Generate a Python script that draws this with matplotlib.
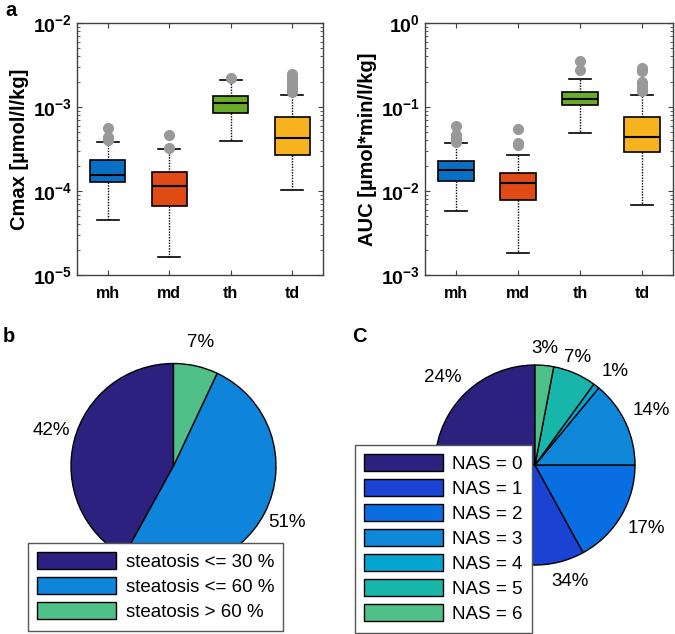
import math
import matplotlib.pyplot as plt

plt.rcParams['font.family'] = ['Liberation Sans', 'DejaVu Sans']
plt.rcParams['mathtext.fontset'] = 'custom'
plt.rcParams['mathtext.rm'] = 'Liberation Sans'
plt.rcParams['mathtext.bf'] = 'Liberation Sans:bold'

# --- data ---
groups = ["mh", "md", "th", "td"]
box_colors = ["#0a6fc4", "#e04a15", "#6aab2b", "#f6b31e"]

# Cmax [umol/l/kg]: whisker low, q1, median, q3, whisker high
cmax_whislo = [4.5e-5, 1.64e-5, 3.9e-4, 1.03e-4]
cmax_q1 = [1.28e-4, 6.6e-5, 8.5e-4, 2.7e-4]
cmax_med = [1.57e-4, 1.16e-4, 1.11e-3, 4.26e-4]
cmax_q3 = [2.33e-4, 1.67e-4, 1.36e-3, 7.5e-4]
cmax_whishi = [3.8e-4, 3.2e-4, 2.1e-3, 1.4e-3]
cmax_fliers = [
    [4.1e-4, 4.4e-4, 5.7e-4],
    [3.25e-4, 4.7e-4],
    [2.2e-3],
    [1.5e-3, 1.6e-3, 1.7e-3, 1.8e-3, 1.9e-3, 2.0e-3, 2.1e-3, 2.2e-3, 2.35e-3, 2.45e-3],
]

# AUC [umol*min/l/kg]
auc_whislo = [5.8e-3, 1.85e-3, 0.0496, 6.9e-3]
auc_q1 = [0.013, 7.8e-3, 0.105, 0.029]
auc_med = [0.0176, 0.0125, 0.124, 0.044]
auc_q3 = [0.0225, 0.0165, 0.149, 0.076]
auc_whishi = [0.037, 0.0268, 0.213, 0.14]
auc_fliers = [
    [0.038, 0.041, 0.044, 0.047, 0.0596],
    [0.035, 0.0375, 0.0553],
    [0.276, 0.357],
    [0.157, 0.165, 0.175, 0.185, 0.2, 0.27, 0.289],
]

# pie b: steatosis
steatosis_labels = ["steatosis <= 30 %", "steatosis <= 60 %", "steatosis > 60 %"]
steatosis_pct = [42, 51, 7]
steatosis_colors = ["#2c217f", "#0e85db", "#4fc087"]

# pie c: NAS score
nas_labels = ["NAS = 0", "NAS = 1", "NAS = 2", "NAS = 3", "NAS = 4", "NAS = 5", "NAS = 6"]
nas_pct = [24, 34, 17, 14, 1, 7, 3]
nas_colors = ["#2c217f", "#1a43d4", "#0a6ee3", "#0f87d8", "#05a5d0", "#17b5aa", "#4fc087"]

W, H = 675, 634
fig = plt.figure(figsize=(W / 100, H / 100), dpi=100)


def px_axes(x0, y0, x1, y1):
    return fig.add_axes([x0 / W, 1 - y1 / H, (x1 - x0) / W, (y1 - y0) / H])


def box_panel(ax, lo, q1, med, q3, hi, fliers, ylim, ylabel, ticks):
    stats = []
    for i in range(len(groups)):
        stats.append(dict(whislo=lo[i], q1=q1[i], med=med[i], q3=q3[i],
                          whishi=hi[i], fliers=fliers[i], label=groups[i]))
    bp = ax.bxp(stats, positions=range(1, 5), widths=0.57, patch_artist=True,
                showfliers=True,
                boxprops=dict(edgecolor="black", linewidth=1.2),
                medianprops=dict(color="black", linewidth=1.5),
                whiskerprops=dict(color="black", linestyle=(0, (1, 1)), linewidth=1),
                capprops=dict(color="black", linewidth=1.2),
                capwidths=0.35,
                flierprops=dict(marker="o", markerfacecolor="#999999",
                                markeredgecolor="#999999", markersize=7))
    for patch, c in zip(bp["boxes"], box_colors):
        patch.set_facecolor(c)
    ax.set_yscale("log")
    ax.set_ylim(*ylim)
    ax.set_xlim(0.5, 4.5)
    ax.set_yticks(ticks)
    ax.set_yticklabels([r"$\mathbf{10^{%d}}$" % round(math.log10(t)) for t in ticks])
    ax.set_xticks(range(1, 5))
    ax.set_xticklabels(groups, fontweight="bold", fontsize=11.5)
    ax.tick_params(axis="both", which="both", direction="in", top=True, right=True,
                   colors="#404040", labelcolor="black")
    ax.tick_params(axis="y", labelsize=14)
    ax.tick_params(axis="x", pad=8)
    ax.set_ylabel(ylabel, fontweight="bold", fontsize=14.5, labelpad=3)
    for s in ax.spines.values():
        s.set_color("#404040")
        s.set_linewidth(1)


def place_labels(wedges, texts, ld):
    # put each percentage just outside its wedge, aligned away from the pie
    for w, t in zip(wedges, texts):
        a = math.radians((w.theta1 + w.theta2) / 2)
        c, s = math.cos(a), math.sin(a)
        t.set_position((ld * c, ld * s))
        t.set_ha("center" if abs(c) < 0.5 else ("left" if c > 0 else "right"))
        t.set_va("bottom" if s > 0 else "top")


ax1 = px_axes(77, 23, 323, 275)
box_panel(ax1, cmax_whislo, cmax_q1, cmax_med, cmax_q3, cmax_whishi, cmax_fliers,
          (1e-5, 1e-2), "Cmax [µmol/l/kg]", [1e-5, 1e-4, 1e-3, 1e-2])

ax2 = px_axes(425, 23, 673, 275)
box_panel(ax2, auc_whislo, auc_q1, auc_med, auc_q3, auc_whishi, auc_fliers,
          (1e-3, 1e0), "AUC [µmol*min/l/kg]", [1e-3, 1e-2, 1e-1, 1e0])

leg_kw = dict(loc="upper left", bbox_transform=fig.transFigure, borderaxespad=0,
              fontsize=13.5, handlelength=4.2, handleheight=1.0, labelspacing=0.33,
              handletextpad=0.5, borderpad=0.5, fancybox=False, framealpha=1,
              edgecolor="#555555")

# --- pie b ---
k = 1.5
rb = 102.5
cxb, cyb = 173.5, 466
ax3 = px_axes(cxb - k * rb, cyb - k * rb, cxb + k * rb, cyb + k * rb)
wedges_b, texts_b = ax3.pie(steatosis_pct, colors=steatosis_colors, startangle=90,
                            counterclock=True, labels=[f"{p}%" for p in steatosis_pct],
                            wedgeprops=dict(edgecolor="black", linewidth=1),
                            textprops=dict(fontsize=13.5))
place_labels(wedges_b, texts_b, 1.04)
texts_b[2].set_position((0.26, 1.12))
ax3.set_xlim(-k, k)
ax3.set_ylim(-k, k)
ax3.axis("off")
leg_b = fig.legend(wedges_b, steatosis_labels, bbox_to_anchor=(28 / W, 1 - 543 / H), **leg_kw)
for h in leg_b.legend_handles:
    h.set_edgecolor("black")

# --- pie c ---
rc = 100
cxc, cyc = 535, 465
ax4 = px_axes(cxc - k * rc, cyc - k * rc, cxc + k * rc, cyc + k * rc)
wedges_c, texts_c = ax4.pie(nas_pct, colors=nas_colors, startangle=90,
                            counterclock=True, labels=[f"{p}%" for p in nas_pct],
                            wedgeprops=dict(edgecolor="black", linewidth=1),
                            textprops=dict(fontsize=13.5))
place_labels(wedges_c, texts_c, 1.08)
# the 34% label was moved to the visible part of its slice
texts_c[1].set_position((0.35, -1.17))
texts_c[1].set_ha("center")
texts_c[1].set_va("center")
ax4.set_xlim(-k, k)
ax4.set_ylim(-k, k)
ax4.axis("off")
leg_c = fig.legend(wedges_c, nas_labels, bbox_to_anchor=(355 / W, 1 - 445 / H), **leg_kw)
for h in leg_c.legend_handles:
    h.set_edgecolor("black")

# panel letters
fig.text(5 / W, 1 - 1 / H, "a", fontsize=14.5, fontweight="bold", va="top")
fig.text(3 / W, 1 - 327 / H, "b", fontsize=14.5, fontweight="bold", va="top")
fig.text(352 / W, 1 - 327 / H, "C", fontsize=14.5, fontweight="bold", va="top")

fig.savefig("out.png", dpi=100)
